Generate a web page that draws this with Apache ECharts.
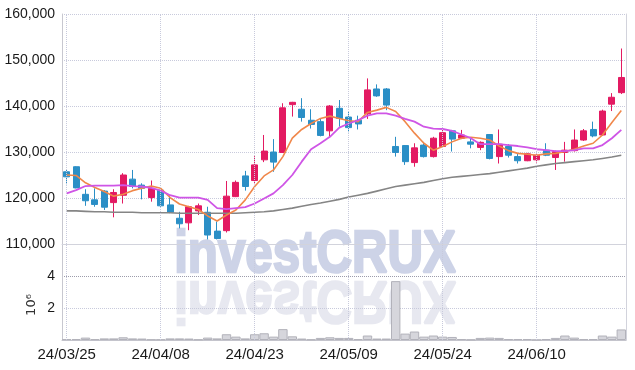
<!DOCTYPE html>
<html>
<head>
<meta charset="utf-8">
<script src="https://cdn.jsdelivr.net/npm/echarts@6/dist/echarts.min.js"></script>
<style>
html,body{margin:0;padding:0;background:#fff;}
#chart{width:635px;height:370px;}
</style>
</head>
<body>
<div id="chart"></div>
<script>
var myChart, option;

// trading days
var dates = ['24/03/25','24/03/26','24/03/27','24/03/28','24/03/29','24/04/01','24/04/02','24/04/03','24/04/04','24/04/05',
    '24/04/08','24/04/09','24/04/11','24/04/12','24/04/15','24/04/16','24/04/17','24/04/18','24/04/19','24/04/22',
    '24/04/23','24/04/24','24/04/25','24/04/26','24/04/29','24/04/30','24/05/02','24/05/03','24/05/07','24/05/08',
    '24/05/09','24/05/10','24/05/13','24/05/14','24/05/16','24/05/17','24/05/20','24/05/21','24/05/22','24/05/23',
    '24/05/24','24/05/27','24/05/28','24/05/29','24/05/30','24/05/31','24/06/03','24/06/04','24/06/05','24/06/07',
    '24/06/10','24/06/11','24/06/12','24/06/13','24/06/14','24/06/17','24/06/18','24/06/19','24/06/20','24/06/21'];

var openPrice = [125700,126800,120800,119600,121500,119000,120600,124100,122800,120100,
    121700,118500,115600,114600,117200,116900,112800,112900,120300,124800,
    123800,128300,130000,129900,140300,139300,136900,136600,134600,139500,
    137600,136900,138300,143700,143700,131200,131400,127700,131500,129000,
    131200,134600,133000,132200,131000,133800,129000,131200,129000,128100,
    128300,130400,128800,129900,130300,132600,134900,133700,140400,142900];
var closePrice = [124600,122200,119400,118600,118000,121200,125000,122500,122100,122100,
    118300,116900,114400,118100,118300,111950,111200,120400,123400,122500,
    127200,130200,127800,139600,140800,137500,136000,133600,140000,137300,
    135300,136100,143500,142200,140200,129900,127900,130900,129000,133000,
    134200,132800,133700,131700,132100,128600,131700,129300,128100,129600,
    129300,129300,130100,130400,132600,134600,133500,138900,141900,146200];
var lowPrice = [123000,122100,118300,118100,117400,115800,118800,122100,119700,119200,
    118100,116700,113400,113000,116300,111000,111000,112500,120200,121600,
    123000,127800,125700,129800,137700,136600,135100,133400,133100,135500,
    134300,134900,137200,142000,139100,129000,127200,126800,128800,128800,
    131000,130100,132800,130800,130400,128400,127500,128800,127500,128000,
    127700,129100,126100,127900,130100,132400,133200,133500,138900,142600];
var highPrice = [126200,126900,121900,122100,121700,121900,125400,126100,123200,123800,
    121800,120600,117000,118300,118800,118100,114900,123700,123800,125900,
    129100,133700,132800,140600,140900,141700,139300,137300,140200,141300,
    138800,137900,146000,144700,143900,133300,131500,131900,132200,133300,
    135100,134800,134800,132900,132300,133900,134900,131700,129700,129800,
    129500,131900,130300,132200,134900,135000,136600,139200,142800,152500];

// moving average lines
var maShort = [125000,124900,123300,122300,121400,120400,120800,121600,122100,122600,
    122100,120100,118700,118100,117500,116100,115000,116300,117400,119600,
    122500,124800,126100,129000,133000,134900,136200,137300,137800,137300,
    136800,136600,138600,139100,139700,138800,136600,134100,131900,130400,
    131200,132200,133000,133200,133000,132600,131300,130300,129700,129500,
    129300,129600,129700,130100,130600,131300,131900,133700,136400,139000];
var maMid = [121000,121700,122600,122700,122700,122700,122800,122600,122500,122200,
    121600,120600,120100,120100,120100,119600,117800,117600,117800,118000,
    118800,119900,121000,122800,125000,127900,130600,131900,133300,135300,
    136200,136900,137900,138400,138400,137900,137200,136600,135500,135100,
    135000,134600,133800,133000,131700,131700,131700,131500,131300,131000,
    130600,130400,130200,130200,130400,130800,130800,131500,133000,134800];
var maLong = [117200,117200,117100,117000,117000,116900,116900,116900,116800,116800,
    116800,116800,116700,116700,116700,116700,116700,116700,116700,116800,
    116900,117000,117200,117500,117800,118200,118600,118900,119300,119700,
    120200,120600,121000,121500,122000,122500,122800,123100,123400,123800,
    124200,124500,124700,124900,125100,125300,125600,125900,126200,126500,
    126900,127200,127500,127700,127900,128100,128300,128600,128900,129300];

// volume (shares)
var volume = [60000,60000,150000,50000,100000,100000,170000,100000,90000,30000,
    30000,100000,100000,90000,30000,150000,100000,360000,210000,100000,
    360000,420000,210000,680000,230000,90000,30000,130000,170000,130000,
    130000,50000,280000,90000,90000,3680000,400000,530000,210000,280000,
    210000,190000,60000,20000,130000,150000,130000,60000,60000,60000,
    10000,60000,130000,280000,150000,60000,60000,280000,210000,660000];

var priceTicks = [110000,120000,130000,140000,150000,160000];
var volTicks = [0,2000000,4000000,6000000];

var labelFont = 'Liberation Sans';
var gridLineColor = '#c8cadc';

init();

function init(){
    myChart = echarts.init(document.getElementById('chart'));
    option = buildOption();
    myChart.setOption(option);
}

// candle data [open, close, low, high]
function candleData(){
    var arr = [];
    for(var i=0;i<dates.length;i++){
        arr.push([openPrice[i], closePrice[i], lowPrice[i], highPrice[i]]);
    }
    return arr;
}

// vertical dotted lines every 10 days
function vLines(){
    var arr = [];
    for(var i=0;i<dates.length;i+=10){
        arr.push({xAxis: dates[i]});
    }
    return {
        silent:true,
        symbol:['none','none'],
        label:{show:false},
        lineStyle:{type:'dotted',color:gridLineColor,width:1},
        data:arr
    };
}

function buildOption(){
    var axisText = {color:'#1a1a1a',fontSize:14,fontFamily:labelFont,margin:7};
    return {
        animation:false,
        backgroundColor:'#fff',
        textStyle:{fontFamily:labelFont},
        graphic:[
            //watermark + reflection
            {type:'text',x:315,y:255,scaleX:0.82,z:-10,
                style:{text:'investCRUX',fill:'#cdd3e7',stroke:'#cdd3e7',lineWidth:2.5,fontFamily:'Liberation Sans',fontWeight:'bold',fontSize:60,align:'center',verticalAlign:'middle'}},
            {type:'text',x:315,y:299,scaleX:0.82,scaleY:-1,z:-11,
                style:{text:'investCRUX',fill:'#e7e8f0',stroke:'#e7e8f0',lineWidth:2.5,fontFamily:'Liberation Sans',fontWeight:'bold',fontSize:60,align:'center',verticalAlign:'middle'}},
            {type:'text',x:32,y:305,rotation:Math.PI/2,
                style:{text:'10\u2076',fill:'#333',fontFamily:'DejaVu Sans',fontSize:13,align:'center',verticalAlign:'middle'}}
        ],
        grid:[
            {left:62,right:9,top:14,height:230},
            {left:62,right:9,top:244,height:96}
        ],
        xAxis:[
            {type:'category',gridIndex:0,data:dates,position:'top',boundaryGap:true,
                axisLine:{lineStyle:{color:'#d2d3dc'}},axisTick:{show:false},axisLabel:{show:false},splitLine:{show:false}},
            {type:'category',gridIndex:1,data:dates,boundaryGap:true,
                axisLine:{lineStyle:{color:'#c4c4cc'}},axisTick:{show:false},splitLine:{show:false},
                axisLabel:Object.assign({},axisText,{fontSize:15,interval:function(i){return i%10===0;}})}
        ],
        yAxis:[
            {type:'value',gridIndex:0,min:priceTicks[0],max:priceTicks[priceTicks.length-1],interval:10000,
                axisLine:{show:true,lineStyle:{color:'#c8c8d0'}},axisTick:{show:false},
                axisLabel:Object.assign({},axisText,{formatter:function(v){return v.toLocaleString('en-US');}}),
                splitLine:{lineStyle:{type:'dotted',color:gridLineColor}}},
            {type:'value',gridIndex:1,min:volTicks[0],max:volTicks[volTicks.length-1],interval:2000000,
                axisLine:{show:true,lineStyle:{color:'#c8c8d0'}},axisTick:{show:false},
                axisLabel:Object.assign({},axisText,{formatter:function(v){return (v==2000000||v==4000000)? String(v/1000000):'';}}),
                splitLine:{lineStyle:{type:'dotted',color:[gridLineColor,gridLineColor,'#9c9cab',gridLineColor]}}},
            {type:'value',gridIndex:0,position:'right',min:0,max:1,
                axisLine:{show:true,lineStyle:{color:'#d2d3dc'}},axisTick:{show:false},axisLabel:{show:false},splitLine:{show:false}},
            {type:'value',gridIndex:1,position:'right',min:0,max:1,
                axisLine:{show:true,lineStyle:{color:'#d2d3dc'}},axisTick:{show:false},axisLabel:{show:false},splitLine:{show:false}}
        ],
        series:[
            {name:'volume',type:'bar',xAxisIndex:1,yAxisIndex:1,data:volume,barWidth:'100%',
                itemStyle:{color:'#d6d6dc',borderColor:'#b2b2ba',borderWidth:1},
                markLine:vLines()},
            {name:'maLong',type:'line',xAxisIndex:0,yAxisIndex:0,data:maLong,symbol:'none',
                lineStyle:{color:'#858585',width:1.6},markLine:vLines()},
            {name:'price',type:'candlestick',xAxisIndex:0,yAxisIndex:0,data:candleData(),barWidth:'70%',
                itemStyle:{color:'#e31a62',color0:'#2b8fc6',borderColor:'#e31a62',borderColor0:'#2b8fc6',borderWidth:1}},
            {name:'maShort',type:'line',xAxisIndex:0,yAxisIndex:0,data:maShort,symbol:'none',
                lineStyle:{color:'#f0874a',width:1.6}},
            {name:'maMid',type:'line',xAxisIndex:0,yAxisIndex:0,data:maMid,symbol:'none',
                lineStyle:{color:'#cf55e6',width:1.8}}
        ]
    };
}
</script>
</body>
</html>
